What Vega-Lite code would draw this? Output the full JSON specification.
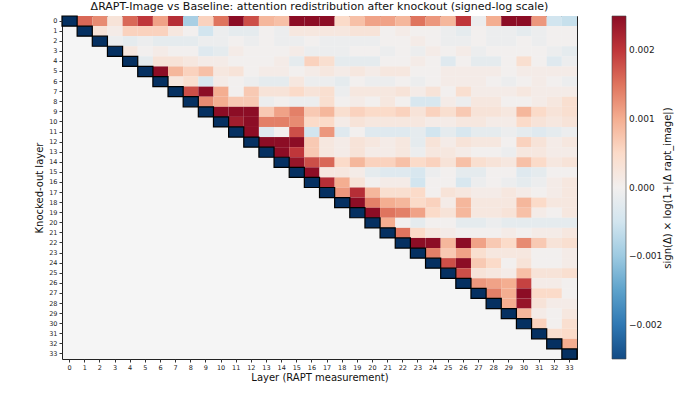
{
  "$schema": "https://vega.github.io/schema/vega-lite/v6.json",
  "width": 515,
  "height": 343,
  "autosize": "none",
  "padding": {"left": 62, "top": 16, "right": 105, "bottom": 54},
  "background": "white",
  "config": {
    "font": "DejaVu Sans",
    "view": {"fill": "#f5f5f5", "stroke": "#222222", "strokeWidth": 1},
    "axis": {"domain": false, "tickColor": "#333333", "tickSize": 3, "labelColor": "#222222", "labelFontSize": 6.5, "labelPadding": 2, "titleFontSize": 10, "titleFontWeight": "normal", "titleColor": "#111111", "grid": false}
  },
  "title": {"text": "ΔRAPT-Image vs Baseline: attention redistribution after knockout (signed-log scale)", "fontSize": 11, "fontWeight": "normal", "color": "#111111", "offset": 3, "anchor": "middle", "frame": "group"},
  "datasets": {
    "cells": [
      {"r":0,"c":1,"v":0.0016},{"r":0,"c":2,"v":0.0013},{"r":0,"c":3,"v":0.0003},{"r":0,"c":4,"v":0.0016},{"r":0,"c":5,"v":0.002},{"r":0,"c":6,"v":0.0011},{"r":0,"c":7,"v":0.0021},{"r":0,"c":8,"v":-0.0009},{"r":0,"c":9,"v":0.0006},{"r":0,"c":10,"v":0.0015},{"r":0,"c":11,"v":0.0025},{"r":0,"c":12,"v":0.0018},{"r":0,"c":13,"v":0.0009},{"r":0,"c":14,"v":0.0008},{"r":0,"c":15,"v":0.0025},{"r":0,"c":16,"v":0.0025},{"r":0,"c":17,"v":0.0025},{"r":0,"c":18,"v":0.0005},{"r":0,"c":19,"v":0.0008},{"r":0,"c":20,"v":0.0011},{"r":0,"c":21,"v":0.0011},{"r":0,"c":22,"v":0.0009},{"r":0,"c":23,"v":0.0015},{"r":0,"c":24,"v":0.0012},{"r":0,"c":25,"v":0.0009},{"r":0,"c":26,"v":0.002},{"r":0,"c":27,"v":-0.0001},{"r":0,"c":28,"v":0.001},{"r":0,"c":29,"v":0.0025},{"r":0,"c":30,"v":0.0025},{"r":0,"c":31,"v":0.0012},{"r":0,"c":32,"v":-0.0005},{"r":0,"c":33,"v":-0.0006},
      {"r":1,"c":2,"v":0.0003},{"r":1,"c":3,"v":0.0001},{"r":1,"c":4,"v":0.0006},{"r":1,"c":5,"v":0.0006},{"r":1,"c":6,"v":0.0006},{"r":1,"c":7,"v":0.0002},{"r":1,"c":8,"v":0},{"r":1,"c":9,"v":-0.0005},{"r":1,"c":10,"v":-0.0001},{"r":1,"c":11,"v":-0.0002},{"r":1,"c":12,"v":-0.0002},{"r":1,"c":13,"v":0},{"r":1,"c":14,"v":-0.0001},{"r":1,"c":15,"v":0.0002},{"r":1,"c":16,"v":0.0002},{"r":1,"c":17,"v":0.0002},{"r":1,"c":18,"v":0.0002},{"r":1,"c":19,"v":0.0003},{"r":1,"c":20,"v":0.0003},{"r":1,"c":21,"v":0},{"r":1,"c":22,"v":0.0001},{"r":1,"c":23,"v":0},{"r":1,"c":24,"v":0},{"r":1,"c":25,"v":-0.0001},{"r":1,"c":26,"v":-0.0002},{"r":1,"c":27,"v":0},{"r":1,"c":28,"v":-0.0001},{"r":1,"c":29,"v":-0.0001},{"r":1,"c":30,"v":-0.0002},{"r":1,"c":31,"v":-0.0001},{"r":1,"c":32,"v":0},{"r":1,"c":33,"v":0},
      {"r":2,"c":3,"v":-0.0001},{"r":2,"c":4,"v":-0.0002},{"r":2,"c":5,"v":-0.0001},{"r":2,"c":6,"v":-0.0002},{"r":2,"c":7,"v":-0.0002},{"r":2,"c":8,"v":-0.0002},{"r":2,"c":9,"v":-0.0001},{"r":2,"c":10,"v":-0.0001},{"r":2,"c":11,"v":0},{"r":2,"c":12,"v":-0.0001},{"r":2,"c":13,"v":0},{"r":2,"c":14,"v":-0.0001},{"r":2,"c":15,"v":-0.0001},{"r":2,"c":16,"v":0},{"r":2,"c":17,"v":-0.0001},{"r":2,"c":18,"v":-0.0001},{"r":2,"c":19,"v":-0.0001},{"r":2,"c":20,"v":-0.0001},{"r":2,"c":21,"v":0},{"r":2,"c":22,"v":0},{"r":2,"c":23,"v":0.0001},{"r":2,"c":24,"v":0},{"r":2,"c":25,"v":-0.0001},{"r":2,"c":26,"v":-0.0001},{"r":2,"c":27,"v":0},{"r":2,"c":28,"v":-0.0001},{"r":2,"c":29,"v":-0.0001},{"r":2,"c":30,"v":0},{"r":2,"c":31,"v":-0.0001},{"r":2,"c":32,"v":0},{"r":2,"c":33,"v":0},
      {"r":3,"c":4,"v":0.0002},{"r":3,"c":5,"v":0},{"r":3,"c":6,"v":0.0001},{"r":3,"c":7,"v":0},{"r":3,"c":8,"v":0},{"r":3,"c":9,"v":-0.0003},{"r":3,"c":10,"v":-0.0002},{"r":3,"c":11,"v":0.0001},{"r":3,"c":12,"v":0},{"r":3,"c":13,"v":0},{"r":3,"c":14,"v":0},{"r":3,"c":15,"v":0.0001},{"r":3,"c":16,"v":-0.0001},{"r":3,"c":17,"v":-0.0001},{"r":3,"c":18,"v":-0.0001},{"r":3,"c":19,"v":0},{"r":3,"c":20,"v":0},{"r":3,"c":21,"v":-0.0001},{"r":3,"c":22,"v":0},{"r":3,"c":23,"v":-0.0001},{"r":3,"c":24,"v":0.0001},{"r":3,"c":25,"v":0},{"r":3,"c":26,"v":0.0001},{"r":3,"c":27,"v":-0.0001},{"r":3,"c":28,"v":0},{"r":3,"c":29,"v":0},{"r":3,"c":30,"v":0},{"r":3,"c":31,"v":0},{"r":3,"c":32,"v":-0.0001},{"r":3,"c":33,"v":-0.0002},
      {"r":4,"c":5,"v":-0.0002},{"r":4,"c":6,"v":0.0003},{"r":4,"c":7,"v":0.0003},{"r":4,"c":8,"v":0.0002},{"r":4,"c":9,"v":0.0001},{"r":4,"c":10,"v":0.0001},{"r":4,"c":11,"v":0},{"r":4,"c":12,"v":0},{"r":4,"c":13,"v":0},{"r":4,"c":14,"v":0.0001},{"r":4,"c":15,"v":-0.0002},{"r":4,"c":16,"v":0.0006},{"r":4,"c":17,"v":0.0004},{"r":4,"c":18,"v":-0.0002},{"r":4,"c":19,"v":-0.0002},{"r":4,"c":20,"v":-0.0002},{"r":4,"c":21,"v":0},{"r":4,"c":22,"v":0},{"r":4,"c":23,"v":0.0001},{"r":4,"c":24,"v":0},{"r":4,"c":25,"v":-0.0003},{"r":4,"c":26,"v":0},{"r":4,"c":27,"v":-0.0002},{"r":4,"c":28,"v":-0.0002},{"r":4,"c":29,"v":0},{"r":4,"c":30,"v":0.0004},{"r":4,"c":31,"v":0},{"r":4,"c":32,"v":-0.0003},{"r":4,"c":33,"v":-0.0001},
      {"r":5,"c":6,"v":0.0025},{"r":5,"c":7,"v":0.0009},{"r":5,"c":8,"v":0.0006},{"r":5,"c":9,"v":0.0008},{"r":5,"c":10,"v":0.0002},{"r":5,"c":11,"v":0.0003},{"r":5,"c":12,"v":0},{"r":5,"c":13,"v":0.0001},{"r":5,"c":14,"v":0.0001},{"r":5,"c":15,"v":0},{"r":5,"c":16,"v":0.0001},{"r":5,"c":17,"v":0.0002},{"r":5,"c":18,"v":0.0001},{"r":5,"c":19,"v":0.0002},{"r":5,"c":20,"v":0.0001},{"r":5,"c":21,"v":0.0002},{"r":5,"c":22,"v":0.0002},{"r":5,"c":23,"v":0},{"r":5,"c":24,"v":0},{"r":5,"c":25,"v":0.0001},{"r":5,"c":26,"v":0.0001},{"r":5,"c":27,"v":0.0001},{"r":5,"c":28,"v":0.0001},{"r":5,"c":29,"v":0},{"r":5,"c":30,"v":0.0001},{"r":5,"c":31,"v":0.0001},{"r":5,"c":32,"v":0.0001},{"r":5,"c":33,"v":0.0001},
      {"r":6,"c":7,"v":0.0002},{"r":6,"c":8,"v":0.0004},{"r":6,"c":9,"v":-0.0004},{"r":6,"c":10,"v":0.0001},{"r":6,"c":11,"v":0},{"r":6,"c":12,"v":-0.0001},{"r":6,"c":13,"v":-0.0002},{"r":6,"c":14,"v":-0.0002},{"r":6,"c":15,"v":0.0002},{"r":6,"c":16,"v":-0.0001},{"r":6,"c":17,"v":-0.0001},{"r":6,"c":18,"v":-0.0002},{"r":6,"c":19,"v":0},{"r":6,"c":20,"v":-0.0001},{"r":6,"c":21,"v":-0.0001},{"r":6,"c":22,"v":0},{"r":6,"c":23,"v":-0.0001},{"r":6,"c":24,"v":0},{"r":6,"c":25,"v":0.0001},{"r":6,"c":26,"v":0.0001},{"r":6,"c":27,"v":0.0001},{"r":6,"c":28,"v":0},{"r":6,"c":29,"v":-0.0001},{"r":6,"c":30,"v":0},{"r":6,"c":31,"v":0.0001},{"r":6,"c":32,"v":0},{"r":6,"c":33,"v":-0.0001},
      {"r":7,"c":8,"v":0.0018},{"r":7,"c":9,"v":0.0025},{"r":7,"c":10,"v":0.001},{"r":7,"c":11,"v":0},{"r":7,"c":12,"v":0.0007},{"r":7,"c":13,"v":0.0003},{"r":7,"c":14,"v":0.0003},{"r":7,"c":15,"v":0.0005},{"r":7,"c":16,"v":0.0003},{"r":7,"c":17,"v":0.0004},{"r":7,"c":18,"v":-0.0001},{"r":7,"c":19,"v":0.0002},{"r":7,"c":20,"v":0.0002},{"r":7,"c":21,"v":0.0002},{"r":7,"c":22,"v":0.0003},{"r":7,"c":23,"v":0.0001},{"r":7,"c":24,"v":0.0003},{"r":7,"c":25,"v":0},{"r":7,"c":26,"v":0.0004},{"r":7,"c":27,"v":0.0001},{"r":7,"c":28,"v":0.0001},{"r":7,"c":29,"v":0.0001},{"r":7,"c":30,"v":0.0002},{"r":7,"c":31,"v":0.0001},{"r":7,"c":32,"v":0.0001},{"r":7,"c":33,"v":0.0001},
      {"r":8,"c":9,"v":0.0013},{"r":8,"c":10,"v":0.001},{"r":8,"c":11,"v":0.0007},{"r":8,"c":12,"v":0.0007},{"r":8,"c":13,"v":-0.0001},{"r":8,"c":14,"v":0},{"r":8,"c":15,"v":-0.0001},{"r":8,"c":16,"v":-0.0001},{"r":8,"c":17,"v":0.0004},{"r":8,"c":18,"v":0},{"r":8,"c":19,"v":0.0001},{"r":8,"c":20,"v":0},{"r":8,"c":21,"v":0.0002},{"r":8,"c":22,"v":0},{"r":8,"c":23,"v":-0.0004},{"r":8,"c":24,"v":-0.0004},{"r":8,"c":25,"v":0.0001},{"r":8,"c":26,"v":-0.0001},{"r":8,"c":27,"v":0.0002},{"r":8,"c":28,"v":0.0002},{"r":8,"c":29,"v":0},{"r":8,"c":30,"v":0},{"r":8,"c":31,"v":0.0001},{"r":8,"c":32,"v":0.0002},{"r":8,"c":33,"v":0.0004},
      {"r":9,"c":10,"v":0.0025},{"r":9,"c":11,"v":0.0025},{"r":9,"c":12,"v":0.0025},{"r":9,"c":13,"v":0.0007},{"r":9,"c":14,"v":0.0011},{"r":9,"c":15,"v":0.0014},{"r":9,"c":16,"v":0.0007},{"r":9,"c":17,"v":0.0009},{"r":9,"c":18,"v":0.0004},{"r":9,"c":19,"v":0.0006},{"r":9,"c":20,"v":0.0005},{"r":9,"c":21,"v":0.0005},{"r":9,"c":22,"v":0.0006},{"r":9,"c":23,"v":0.0003},{"r":9,"c":24,"v":0.0006},{"r":9,"c":25,"v":0.0004},{"r":9,"c":26,"v":0.0007},{"r":9,"c":27,"v":0.0003},{"r":9,"c":28,"v":0.0003},{"r":9,"c":29,"v":0.0002},{"r":9,"c":30,"v":0.0009},{"r":9,"c":31,"v":0.0005},{"r":9,"c":32,"v":0.0003},{"r":9,"c":33,"v":0.0004},
      {"r":10,"c":11,"v":0.0023},{"r":10,"c":12,"v":0.0025},{"r":10,"c":13,"v":0.0014},{"r":10,"c":14,"v":0.0014},{"r":10,"c":15,"v":0.0013},{"r":10,"c":16,"v":0.0005},{"r":10,"c":17,"v":0.0005},{"r":10,"c":18,"v":0.0001},{"r":10,"c":19,"v":0.0003},{"r":10,"c":20,"v":0.0002},{"r":10,"c":21,"v":0.0002},{"r":10,"c":22,"v":0.0002},{"r":10,"c":23,"v":0.0002},{"r":10,"c":24,"v":0.0001},{"r":10,"c":25,"v":0.0001},{"r":10,"c":26,"v":0.0002},{"r":10,"c":27,"v":0.0002},{"r":10,"c":28,"v":0.0001},{"r":10,"c":29,"v":0.0001},{"r":10,"c":30,"v":0.0005},{"r":10,"c":31,"v":0.0003},{"r":10,"c":32,"v":0.0002},{"r":10,"c":33,"v":0.0003},
      {"r":11,"c":12,"v":0.0025},{"r":11,"c":13,"v":-0.0003},{"r":11,"c":14,"v":0},{"r":11,"c":15,"v":0.0018},{"r":11,"c":16,"v":-0.0005},{"r":11,"c":17,"v":0.0012},{"r":11,"c":18,"v":-0.0003},{"r":11,"c":19,"v":0},{"r":11,"c":20,"v":-0.0003},{"r":11,"c":21,"v":-0.0003},{"r":11,"c":22,"v":-0.0003},{"r":11,"c":23,"v":-0.0002},{"r":11,"c":24,"v":-0.0005},{"r":11,"c":25,"v":-0.0002},{"r":11,"c":26,"v":-0.0004},{"r":11,"c":27,"v":-0.0002},{"r":11,"c":28,"v":-0.0002},{"r":11,"c":29,"v":-0.0001},{"r":11,"c":30,"v":-0.0002},{"r":11,"c":31,"v":-0.0003},{"r":11,"c":32,"v":-0.0002},{"r":11,"c":33,"v":-0.0001},
      {"r":12,"c":13,"v":0.0025},{"r":12,"c":14,"v":0.0025},{"r":12,"c":15,"v":0.0025},{"r":12,"c":16,"v":0.0007},{"r":12,"c":17,"v":0.0002},{"r":12,"c":18,"v":0.0001},{"r":12,"c":19,"v":0.0003},{"r":12,"c":20,"v":0.0002},{"r":12,"c":21,"v":0.0001},{"r":12,"c":22,"v":0.0002},{"r":12,"c":23,"v":-0.0002},{"r":12,"c":24,"v":0.0003},{"r":12,"c":25,"v":0.0001},{"r":12,"c":26,"v":0.0003},{"r":12,"c":27,"v":0.0002},{"r":12,"c":28,"v":0.0002},{"r":12,"c":29,"v":0},{"r":12,"c":30,"v":0.0006},{"r":12,"c":31,"v":0.0003},{"r":12,"c":32,"v":0.0001},{"r":12,"c":33,"v":0.0002},
      {"r":13,"c":14,"v":0.0025},{"r":13,"c":15,"v":0.002},{"r":13,"c":16,"v":0.0007},{"r":13,"c":17,"v":0.0002},{"r":13,"c":18,"v":0.0001},{"r":13,"c":19,"v":0.0003},{"r":13,"c":20,"v":0.0001},{"r":13,"c":21,"v":0.0001},{"r":13,"c":22,"v":0.0002},{"r":13,"c":23,"v":-0.0001},{"r":13,"c":24,"v":0.0002},{"r":13,"c":25,"v":0.0002},{"r":13,"c":26,"v":0.0001},{"r":13,"c":27,"v":0},{"r":13,"c":28,"v":0},{"r":13,"c":29,"v":-0.0001},{"r":13,"c":30,"v":0.0002},{"r":13,"c":31,"v":0.0002},{"r":13,"c":32,"v":0.0001},{"r":13,"c":33,"v":0.0001},
      {"r":14,"c":15,"v":0.0024},{"r":14,"c":16,"v":0.0018},{"r":14,"c":17,"v":0.0016},{"r":14,"c":18,"v":0.0005},{"r":14,"c":19,"v":0.0009},{"r":14,"c":20,"v":0.0006},{"r":14,"c":21,"v":0.0006},{"r":14,"c":22,"v":0.0008},{"r":14,"c":23,"v":0.0005},{"r":14,"c":24,"v":0.0006},{"r":14,"c":25,"v":0.0003},{"r":14,"c":26,"v":0.0008},{"r":14,"c":27,"v":0.0004},{"r":14,"c":28,"v":0.0003},{"r":14,"c":29,"v":0.0002},{"r":14,"c":30,"v":0.0008},{"r":14,"c":31,"v":0.0005},{"r":14,"c":32,"v":0.0002},{"r":14,"c":33,"v":0.0003},
      {"r":15,"c":16,"v":0.0025},{"r":15,"c":17,"v":0.0002},{"r":15,"c":18,"v":0.0002},{"r":15,"c":19,"v":0.0001},{"r":15,"c":20,"v":-0.0002},{"r":15,"c":21,"v":-0.0003},{"r":15,"c":22,"v":-0.0003},{"r":15,"c":23,"v":-0.0004},{"r":15,"c":24,"v":-0.0001},{"r":15,"c":25,"v":0},{"r":15,"c":26,"v":-0.0002},{"r":15,"c":27,"v":-0.0002},{"r":15,"c":28,"v":0},{"r":15,"c":29,"v":0},{"r":15,"c":30,"v":-0.0003},{"r":15,"c":31,"v":-0.0002},{"r":15,"c":32,"v":0},{"r":15,"c":33,"v":0},
      {"r":16,"c":17,"v":0.0021},{"r":16,"c":18,"v":0.001},{"r":16,"c":19,"v":0.0003},{"r":16,"c":20,"v":0},{"r":16,"c":21,"v":0.0001},{"r":16,"c":22,"v":0.0001},{"r":16,"c":23,"v":-0.0005},{"r":16,"c":24,"v":0},{"r":16,"c":25,"v":0},{"r":16,"c":26,"v":-0.0004},{"r":16,"c":27,"v":-0.0001},{"r":16,"c":28,"v":0},{"r":16,"c":29,"v":-0.0001},{"r":16,"c":30,"v":-0.0002},{"r":16,"c":31,"v":-0.0001},{"r":16,"c":32,"v":0.0001},{"r":16,"c":33,"v":0.0002},
      {"r":17,"c":18,"v":0.0012},{"r":17,"c":19,"v":0.0021},{"r":17,"c":20,"v":0.0009},{"r":17,"c":21,"v":0.0004},{"r":17,"c":22,"v":0.0004},{"r":17,"c":23,"v":0.0005},{"r":17,"c":24,"v":0},{"r":17,"c":25,"v":0.0003},{"r":17,"c":26,"v":0.0002},{"r":17,"c":27,"v":0.0001},{"r":17,"c":28,"v":0.0001},{"r":17,"c":29,"v":0.0002},{"r":17,"c":30,"v":0.0001},{"r":17,"c":31,"v":0},{"r":17,"c":32,"v":0.0001},{"r":17,"c":33,"v":0.0002},
      {"r":18,"c":19,"v":0.0025},{"r":18,"c":20,"v":0.0014},{"r":18,"c":21,"v":0.001},{"r":18,"c":22,"v":0.0009},{"r":18,"c":23,"v":0.0005},{"r":18,"c":24,"v":0.0006},{"r":18,"c":25,"v":0.0001},{"r":18,"c":26,"v":0.0009},{"r":18,"c":27,"v":0.0002},{"r":18,"c":28,"v":0.0002},{"r":18,"c":29,"v":0.0002},{"r":18,"c":30,"v":0.0009},{"r":18,"c":31,"v":0.0005},{"r":18,"c":32,"v":0.0002},{"r":18,"c":33,"v":0.0002},
      {"r":19,"c":20,"v":0.0025},{"r":19,"c":21,"v":0.0015},{"r":19,"c":22,"v":0.0014},{"r":19,"c":23,"v":0.0011},{"r":19,"c":24,"v":0.0005},{"r":19,"c":25,"v":0.0003},{"r":19,"c":26,"v":0.0009},{"r":19,"c":27,"v":0.0002},{"r":19,"c":28,"v":0.0002},{"r":19,"c":29,"v":0.0003},{"r":19,"c":30,"v":0.0008},{"r":19,"c":31,"v":0.0001},{"r":19,"c":32,"v":0},{"r":19,"c":33,"v":0.0002},
      {"r":20,"c":21,"v":0.001},{"r":20,"c":22,"v":0},{"r":20,"c":23,"v":-0.0002},{"r":20,"c":24,"v":0},{"r":20,"c":25,"v":0},{"r":20,"c":26,"v":-0.0002},{"r":20,"c":27,"v":-0.0002},{"r":20,"c":28,"v":-0.0001},{"r":20,"c":29,"v":-0.0002},{"r":20,"c":30,"v":-0.0002},{"r":20,"c":31,"v":-0.0002},{"r":20,"c":32,"v":-0.0002},{"r":20,"c":33,"v":-0.0002},
      {"r":21,"c":22,"v":0.0015},{"r":21,"c":23,"v":0.0005},{"r":21,"c":24,"v":0.0002},{"r":21,"c":25,"v":0.0001},{"r":21,"c":26,"v":0},{"r":21,"c":27,"v":0},{"r":21,"c":28,"v":0},{"r":21,"c":29,"v":0.0001},{"r":21,"c":30,"v":0},{"r":21,"c":31,"v":0.0001},{"r":21,"c":32,"v":0.0001},{"r":21,"c":33,"v":0.0002},
      {"r":22,"c":23,"v":0.0025},{"r":22,"c":24,"v":0.0025},{"r":22,"c":25,"v":0.0009},{"r":22,"c":26,"v":0.0025},{"r":22,"c":27,"v":0.0011},{"r":22,"c":28,"v":0.0007},{"r":22,"c":29,"v":0.0005},{"r":22,"c":30,"v":0.0013},{"r":22,"c":31,"v":0.0007},{"r":22,"c":32,"v":0.0003},{"r":22,"c":33,"v":0.0004},
      {"r":23,"c":24,"v":0.0014},{"r":23,"c":25,"v":0.0007},{"r":23,"c":26,"v":0.0011},{"r":23,"c":27,"v":0.0004},{"r":23,"c":28,"v":0.0002},{"r":23,"c":29,"v":0.0002},{"r":23,"c":30,"v":0.0002},{"r":23,"c":31,"v":0},{"r":23,"c":32,"v":0},{"r":23,"c":33,"v":0.0001},
      {"r":24,"c":25,"v":0.0018},{"r":24,"c":26,"v":0.0025},{"r":24,"c":27,"v":0.0007},{"r":24,"c":28,"v":0.0005},{"r":24,"c":29,"v":0},{"r":24,"c":30,"v":0.0003},{"r":24,"c":31,"v":0},{"r":24,"c":32,"v":0},{"r":24,"c":33,"v":0.0001},
      {"r":25,"c":26,"v":0.0018},{"r":25,"c":27,"v":0.0003},{"r":25,"c":28,"v":0.0002},{"r":25,"c":29,"v":0.0001},{"r":25,"c":30,"v":0.0008},{"r":25,"c":31,"v":0.0003},{"r":25,"c":32,"v":0.0003},{"r":25,"c":33,"v":0.0004},
      {"r":26,"c":27,"v":0.0012},{"r":26,"c":28,"v":0.0011},{"r":26,"c":29,"v":0.001},{"r":26,"c":30,"v":0.0019},{"r":26,"c":31,"v":0.0001},{"r":26,"c":32,"v":0.0001},{"r":26,"c":33,"v":0},
      {"r":27,"c":28,"v":0.0014},{"r":27,"c":29,"v":0.001},{"r":27,"c":30,"v":0.0025},{"r":27,"c":31,"v":0.0005},{"r":27,"c":32,"v":0.0005},{"r":27,"c":33,"v":0},
      {"r":28,"c":29,"v":0.001},{"r":28,"c":30,"v":0.0024},{"r":28,"c":31,"v":0.0003},{"r":28,"c":32,"v":0.0001},{"r":28,"c":33,"v":0.0001},
      {"r":29,"c":30,"v":0.0009},{"r":29,"c":31,"v":0.0001},{"r":29,"c":32,"v":0},{"r":29,"c":33,"v":0.0002},
      {"r":30,"c":31,"v":0.0006},{"r":30,"c":32,"v":0},{"r":30,"c":33,"v":0.0004},
      {"r":31,"c":32,"v":0.0004},{"r":31,"c":33,"v":0.0005},
      {"r":32,"c":33,"v":0.001}
    ],
    "diag": [
      {"r":0,"c":0},{"r":1,"c":1},{"r":2,"c":2},{"r":3,"c":3},{"r":4,"c":4},{"r":5,"c":5},{"r":6,"c":6},{"r":7,"c":7},{"r":8,"c":8},{"r":9,"c":9},{"r":10,"c":10},{"r":11,"c":11},{"r":12,"c":12},{"r":13,"c":13},{"r":14,"c":14},{"r":15,"c":15},{"r":16,"c":16},{"r":17,"c":17},{"r":18,"c":18},{"r":19,"c":19},{"r":20,"c":20},{"r":21,"c":21},{"r":22,"c":22},{"r":23,"c":23},{"r":24,"c":24},{"r":25,"c":25},{"r":26,"c":26},{"r":27,"c":27},{"r":28,"c":28},{"r":29,"c":29},{"r":30,"c":30},{"r":31,"c":31},{"r":32,"c":32},{"r":33,"c":33}
    ]
  },
  "encoding": {
    "x": {
      "field": "c", "type": "ordinal",
      "scale": {"domain": [0,1,2,3,4,5,6,7,8,9,10,11,12,13,14,15,16,17,18,19,20,21,22,23,24,25,26,27,28,29,30,31,32,33], "paddingInner": 0, "paddingOuter": 0},
      "axis": {"title": "Layer (RAPT measurement)", "labelAngle": 0, "titlePadding": 2}
    }
  },
  "layer": [
    {
      "data": {"name": "cells"},
      "mark": {"type": "rect"},
      "encoding": {
        "y": {
          "field": "r", "type": "ordinal",
          "scale": {"domain": [0,1,2,3,4,5,6,7,8,9,10,11,12,13,14,15,16,17,18,19,20,21,22,23,24,25,26,27,28,29,30,31,32,33], "paddingInner": 0, "paddingOuter": 0},
          "axis": {"title": "Knocked-out layer", "titlePadding": 4, "orient": "left"}
        },
        "color": {
          "field": "v", "type": "quantitative",
          "scale": {"scheme": "redblue", "reverse": true, "domain": [-0.0025, 0.0025], "clamp": true},
          "legend": {
            "title": null,
            "orient": "none", "legendX": 550, "legendY": 0, "padding": 0,
            "direction": "vertical",
            "gradientLength": 343, "gradientThickness": 14,
            "gradientStrokeColor": "#444444", "gradientStrokeWidth": 0.6,
            "values": [-0.002, -0.001, 0, 0.001, 0.002],
            "format": ".3f",
            "labelExpr": "replace(datum.label, '-', '−')",
            "labelFontSize": 9, "labelColor": "#222222", "labelOffset": 3
          }
        }
      }
    },
    {
      "data": {"name": "diag"},
      "mark": {"type": "rect", "color": "#053061", "stroke": "#000000", "strokeWidth": 1.2},
      "encoding": {
        "y": {
          "field": "r", "type": "ordinal",
          "scale": {"domain": [0,1,2,3,4,5,6,7,8,9,10,11,12,13,14,15,16,17,18,19,20,21,22,23,24,25,26,27,28,29,30,31,32,33], "paddingInner": 0, "paddingOuter": 0},
          "axis": null
        }
      }
    },
    {
      "data": {"name": "diag"},
      "mark": {"type": "rect", "opacity": 0},
      "encoding": {
        "y": {
          "field": "r", "type": "ordinal",
          "scale": {"domain": [0,1,2,3,4,5,6,7,8,9,10,11,12,13,14,15,16,17,18,19,20,21,22,23,24,25,26,27,28,29,30,31,32,33], "paddingInner": 0, "paddingOuter": 0},
          "axis": {
            "orient": "right", "labels": false, "ticks": false, "domain": false,
            "title": "sign(Δ) × log(1+|Δ rapt_image|)",
            "titleAngle": 270, "titleX": 90, "titleY": 171.5, "titleAlign": "center", "titleBaseline": "middle",
            "titleFontSize": 10
          }
        }
      }
    }
  ],
  "resolve": {"scale": {"y": "independent"}, "axis": {"y": "independent"}}
}
